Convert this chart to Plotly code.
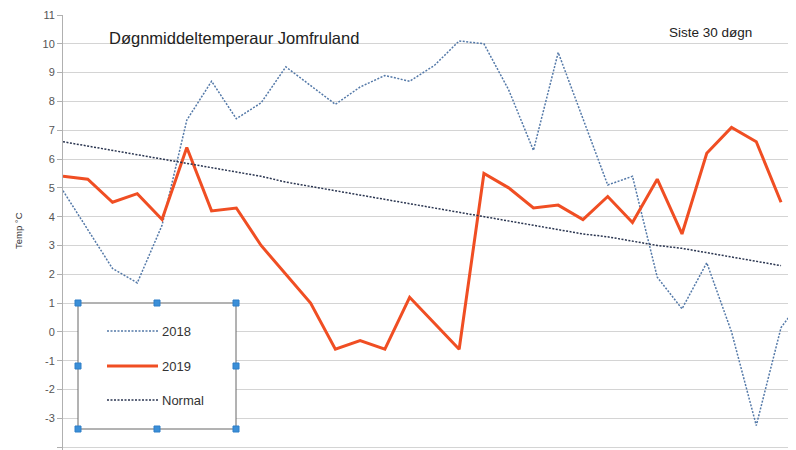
import plotly.graph_objects as go

# Day index (last 30 days; 2018 series has one more point that runs off the right edge)
days = [1, 2, 3, 4, 5, 6, 7, 8, 9, 10, 11, 12, 13, 14, 15, 16, 17, 18, 19, 20,
        21, 22, 23, 24, 25, 26, 27, 28, 29, 30, 31]

temp_2018 = [4.9, 3.55, 2.2, 1.7, 3.7, 7.35, 8.7, 7.4, 7.95, 9.2,
             8.55, 7.9, 8.5, 8.9, 8.7, 9.25, 10.1, 10.0, 8.4, 6.3,
             9.7, 7.4, 5.1, 5.4, 1.9, 0.8, 2.4, 0.0, -3.25, 0.15, 1.3]

temp_2019 = [5.4, 5.3, 4.5, 4.8, 3.9, 6.4, 4.2, 4.3, 3.0, 2.0,
             1.0, -0.6, -0.3, -0.6, 1.2, 0.3, -0.6, 5.5, 5.0, 4.3,
             4.4, 3.9, 4.7, 3.8, 5.3, 3.4, 6.2, 7.1, 6.6, 4.5]

temp_normal = [6.6, 6.45, 6.3, 6.15, 6.0, 5.85, 5.7, 5.55, 5.4, 5.2,
               5.05, 4.9, 4.75, 4.6, 4.45, 4.3, 4.15, 4.0, 3.85, 3.7,
               3.55, 3.4, 3.3, 3.15, 3.0, 2.9, 2.75, 2.6, 2.45, 2.3]

y_ticks = [-4, -3, -2, -1, 0, 1, 2, 3, 4, 5, 6, 7, 8, 9, 10, 11]

series_names = ["2018", "2019", "Normal"]

C2018 = "#5479a8"
C2019 = "#f04e23"
CNORM = "#2a3550"
FONT = "Liberation Sans, Arial, sans-serif"

fig = go.Figure()
fig.add_trace(go.Scatter(x=days[:len(temp_2018)], y=temp_2018, mode="lines", name=series_names[0],
                         line=dict(color=C2018, width=1.5, dash="2px,1.5px")))
fig.add_trace(go.Scatter(x=days[:len(temp_2019)], y=temp_2019, mode="lines", name=series_names[1],
                         line=dict(color=C2019, width=3)))
fig.add_trace(go.Scatter(x=days[:len(temp_normal)], y=temp_normal, mode="lines", name=series_names[2],
                         line=dict(color=CNORM, width=1.5, dash="2px,1.5px")))

# page body has a default 8px margin; compensate so the plot lands where it should
OFF = 8
W, H = 796 - OFF, 450 - OFF
ML, MR, MT, MB = 63 - OFF, 0, 15 - OFF, 0
PW, PH = W - ML - MR, H - MT - MB
Y_MIN = -4.1


def px(x):
    return (x - OFF - ML) / PW


def py(y):
    return (H - MB - (y - OFF)) / PH


shapes = []
annotations = []

# Legend box (drawn manually to match the reference layout)
shapes.append(dict(type="rect", xref="paper", yref="paper",
                   x0=px(78), x1=px(236), y0=py(429), y1=py(303),
                   line=dict(color="#666666", width=1), fillcolor="white", layer="above"))
leg_styles = [
    (C2018, 1.5, "2px,1.5px", 331),
    (C2019, 3, "solid", 366),
    (CNORM, 1.5, "2px,1.5px", 400),
]
for name, (col, w, dsh, yy) in zip(series_names, leg_styles):
    shapes.append(dict(type="line", xref="paper", yref="paper",
                       x0=px(107), x1=px(158), y0=py(yy), y1=py(yy),
                       line=dict(color=col, width=w, dash=dsh), layer="above"))
    annotations.append(dict(xref="paper", yref="paper", x=px(160), y=py(yy),
                            xanchor="left", yanchor="middle", text=name, showarrow=False,
                            font=dict(family=FONT, size=13, color="#333333")))

# selection handles around legend box
for hx, hy in [(78, 303), (157, 303), (236, 303), (78, 366), (236, 366),
               (78, 429), (157, 429), (236, 429)]:
    shapes.append(dict(type="rect", xref="paper", yref="paper",
                       x0=px(hx - 3), x1=px(hx + 3), y0=py(hy + 3), y1=py(hy - 3),
                       line=dict(color="#2f7fc8", width=1), fillcolor="#3b8fd8", layer="above"))

annotations.append(dict(xref="paper", yref="paper", x=px(107), y=py(38),
                        xanchor="left", yanchor="middle",
                        text="Døgnmiddeltemperaur Jomfruland", showarrow=False,
                        font=dict(family=FONT, size=16.5, color="#222222")))
annotations.append(dict(xref="paper", yref="paper", x=px(667), y=py(33),
                        xanchor="left", yanchor="middle",
                        text="Siste 30 døgn", showarrow=False,
                        font=dict(family=FONT, size=13.5, color="#222222")))
annotations.append(dict(xref="paper", yref="paper", x=px(18), y=py(231),
                        xanchor="center", yanchor="middle", textangle=-90,
                        text="Temp °C", showarrow=False,
                        font=dict(family=FONT, size=9.5, color="#333333")))

fig.update_layout(
    width=W, height=H,
    margin=dict(l=ML, r=MR, t=MT, b=MB),
    paper_bgcolor="white", plot_bgcolor="white",
    showlegend=False,
    shapes=shapes, annotations=annotations,
    xaxis=dict(range=[1, 1 + PW / 24.76], showgrid=False, zeroline=False,
               showticklabels=False, ticks="", showline=False),
    yaxis=dict(range=[Y_MIN, 11], tickvals=y_ticks, ticktext=[str(v) for v in y_ticks],
               showgrid=True, gridcolor="#d4d4d4", gridwidth=1, zeroline=False,
               showline=True, linecolor="#b0b0b0", linewidth=1,
               ticks="outside", ticklen=5, tickcolor="#b0b0b0",
               tickfont=dict(family=FONT, size=11, color="#555555")),
)

fig.write_html("out.html")
